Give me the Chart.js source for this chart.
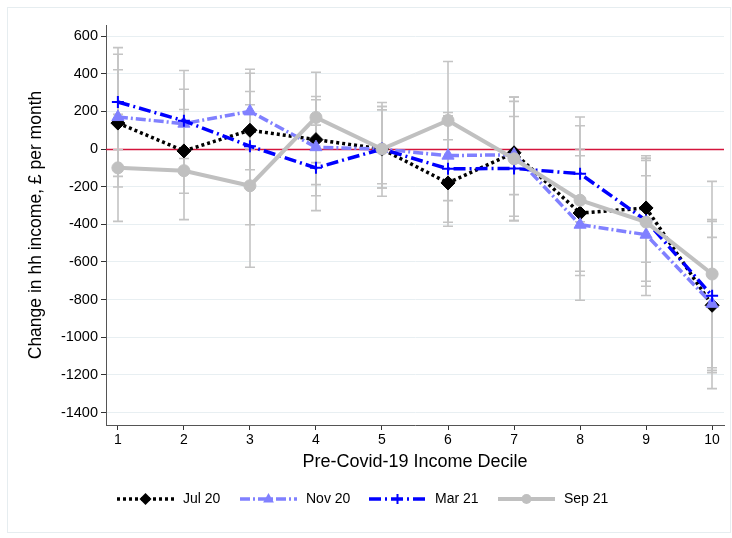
<!DOCTYPE html>
<html>
<head>
<meta charset="utf-8">
<script src="https://cdn.jsdelivr.net/npm/chart.js@4/dist/chart.umd.min.js"></script>
<style>
  body { margin: 0; background: #fff; }
  #wrap { width: 732px; height: 538px; }
</style>
</head>
<body>
<div id="wrap"><canvas id="incomeChart" width="732" height="538"></canvas></div>
<script>
// pre-covid income deciles
var deciles = [1, 2, 3, 4, 5, 6, 7, 8, 9, 10];
var yTicks = [600, 400, 200, 0, -200, -400, -600, -800, -1000, -1200, -1400];

// point estimates, £ per month
var jul20 = [138, -10, 100, 50, 0, -180, -20, -340, -313, -830];
var nov20 = [170, 135, 200, 10, 0, -35, -30, -402, -455, -822];
var mar21 = [250, 150, 15, -100, 0, -105, -103, -131, -380, -780];
var sep21 = [-100, -115, -195, 168, 0, 152, -52, -272, -388, -664];

// confidence intervals (lower / upper)
var jul20Lo = [-145, -235, -110, -189, -251, -410, -242, -649, -601, -1188];
var jul20Hi = [421, 210, 306, 279, 247, 49, 253, -36, -36, -469];
var nov20Lo = [-202, -50, 0, -248, -207, -274, -357, -803, -778, -1273];
var nov20Hi = [539, 318, 403, 262, 226, 194, 276, 0, -142, -375];
var mar21Lo = [-4, -117, -402, -327, -184, -389, -380, -386, -702, -1176];
var mar21Hi = [504, 417, 424, 127, 208, 177, 173, 124, -60, -384];
var sep21Lo = [-384, -375, -628, -72, -207, -161, -380, -672, -729, -1162];
var sep21Hi = [184, 145, 235, 408, 226, 465, 276, 170, -48, -172];

var FONT = "'Liberation Sans', Arial, sans-serif";

function pts(vals) {
    return deciles.map(function (d, i) { return { x: d, y: vals[i] }; });
}

// draws a marker the same way for plot and legend
function marker(ctx, style, x, y, r, color) {
    ctx.save();
    ctx.fillStyle = color;
    ctx.strokeStyle = color;
    ctx.setLineDash([]);
    ctx.beginPath();
    if (style === 'rectRot') {
        ctx.moveTo(x, y - r); ctx.lineTo(x + r, y); ctx.lineTo(x, y + r); ctx.lineTo(x - r, y);
        ctx.closePath(); ctx.fill();
    } else if (style === 'triangle') {
        ctx.moveTo(x, y - r); ctx.lineTo(x + r * 0.9, y + r * 0.6); ctx.lineTo(x - r * 0.9, y + r * 0.6);
        ctx.closePath(); ctx.fill();
    } else if (style === 'cross') {
        ctx.lineWidth = 2;
        ctx.moveTo(x - r, y); ctx.lineTo(x + r, y); ctx.moveTo(x, y - r); ctx.lineTo(x, y + r);
        ctx.stroke();
    } else {
        ctx.arc(x, y, r, 0, Math.PI * 2); ctx.fill();
    }
    ctx.restore();
}

var series = [
    { label: 'Jul 20', data: jul20, lo: jul20Lo, hi: jul20Hi, color: '#000000', dash: [3, 3], width: 3.5, style: 'rectRot', r: 7 },
    { label: 'Nov 20', data: nov20, lo: nov20Lo, hi: nov20Hi, color: '#8080ff', dash: [10, 3, 2, 3], width: 3.5, style: 'triangle', r: 7 },
    { label: 'Mar 21', data: mar21, lo: mar21Lo, hi: mar21Hi, color: '#0000ff', dash: [12, 4, 2, 4], width: 3.5, style: 'cross', r: 6 },
    { label: 'Sep 21', data: sep21, lo: sep21Lo, hi: sep21Hi, color: '#c0c0c0', dash: [], width: 4, style: 'circle', r: 6 }
];

var graphFrame = {
    id: 'graphFrame',
    beforeDraw: function (chart) {
        var ctx = chart.ctx;
        ctx.save();
        ctx.fillStyle = '#ffffff';
        ctx.fillRect(0, 0, chart.width, chart.height);
        ctx.strokeStyle = '#e6edf0';
        ctx.lineWidth = 1;
        ctx.strokeRect(7.5, 7.5, 723, 525);
        ctx.restore();
    }
};

var zeroLine = {
    id: 'zeroLine',
    beforeDatasetsDraw: function (chart) {
        var ctx = chart.ctx, a = chart.chartArea;
        var y = Math.round(chart.scales.y.getPixelForValue(0)) + 0.5;
        ctx.save();
        ctx.strokeStyle = '#d4143c';
        ctx.lineWidth = 1.5;
        ctx.beginPath();
        ctx.moveTo(a.left, y); ctx.lineTo(a.right, y);
        ctx.stroke();
        ctx.restore();
    }
};

var errorBars = {
    id: 'errorBars',
    beforeDatasetsDraw: function (chart) {
        var ctx = chart.ctx, xs = chart.scales.x, ys = chart.scales.y;
        ctx.save();
        ctx.strokeStyle = '#c4c4c4';
        ctx.lineWidth = 1.6;
        series.forEach(function (s) {
            deciles.forEach(function (d, i) {
                var x = Math.round(xs.getPixelForValue(d));
                var y1 = ys.getPixelForValue(s.lo[i]);
                var y2 = ys.getPixelForValue(s.hi[i]);
                ctx.beginPath();
                ctx.moveTo(x, y1); ctx.lineTo(x, y2);
                ctx.moveTo(x - 5, y1); ctx.lineTo(x + 5, y1);
                ctx.moveTo(x - 5, y2); ctx.lineTo(x + 5, y2);
                ctx.stroke();
            });
        });
        ctx.restore();
    }
};

var bottomLegend = {
    id: 'bottomLegend',
    afterDraw: function (chart) {
        var ctx = chart.ctx;
        var starts = [117, 240, 369, 498];
        var y = 499;
        ctx.save();
        ctx.font = '14px ' + FONT;
        ctx.textBaseline = 'middle';
        series.forEach(function (s, i) {
            var x0 = starts[i], x1 = x0 + 57;
            ctx.strokeStyle = s.color;
            ctx.lineWidth = s.width;
            ctx.setLineDash(s.dash);
            ctx.beginPath();
            ctx.moveTo(x0, y); ctx.lineTo(x1, y);
            ctx.stroke();
            marker(ctx, s.style, (x0 + x1) / 2, y, s.r - 1, s.color);
            ctx.fillStyle = '#000';
            ctx.fillText(s.label, x1 + 9, y);
        });
        ctx.restore();
    }
};

var ctx = document.getElementById('incomeChart').getContext('2d');
var incomeChart = new Chart(ctx, {
    type: 'line',
    data: {
        datasets: series.map(function (s, i) {
            return {
                label: s.label,
                data: pts(s.data),
                borderColor: s.color,
                backgroundColor: s.color,
                borderWidth: s.width,
                borderDash: s.dash,
                borderCapStyle: 'butt',
                pointStyle: s.style,
                pointRadius: s.r,
                pointBorderWidth: s.style === 'cross' ? 2 : 1,
                pointBackgroundColor: s.color,
                pointBorderColor: s.color,
                tension: 0,
                fill: false,
                order: 4 - i
            };
        })
    },
    options: {
        responsive: false,
        animation: false,
        layout: { padding: { left: 22, right: 6, top: 25, bottom: 61 } },
        plugins: {
            legend: { display: false },
            tooltip: { enabled: false }
        },
        scales: {
            x: {
                type: 'linear',
                min: 0.82,
                max: 10.18,
                afterBuildTicks: function (scale) {
                    scale.ticks = deciles.map(function (v) { return { value: v }; });
                },
                afterFit: function (scale) { scale.height = 52; },
                grid: { drawOnChartArea: false, drawTicks: true, tickLength: 5, tickColor: '#333' },
                border: { display: true, color: '#555', width: 1 },
                ticks: { color: '#000', font: { family: FONT, size: 14 }, padding: 2, maxRotation: 0 },
                title: { display: true, text: 'Pre-Covid-19 Income Decile', color: '#000', font: { family: FONT, size: 18 }, padding: { top: 4, bottom: 4 } }
            },
            y: {
                min: -1466,
                max: 659,
                afterBuildTicks: function (scale) {
                    scale.ticks = yTicks.map(function (v) { return { value: v }; });
                },
                afterFit: function (scale) { scale.width = 84; },
                grid: { color: '#e8eff2', lineWidth: 1, drawTicks: true, tickLength: 5, tickColor: '#333' },
                border: { display: true, color: '#555', width: 1 },
                ticks: {
                    color: '#000', font: { family: FONT, size: 14.5 }, padding: 3,
                    callback: function (v) { return String(v); }
                },
                title: { display: true, text: 'Change in hh income, £ per month', color: '#000', font: { family: FONT, size: 17.5 }, padding: { top: 4, bottom: 4 } }
            }
        }
    },
    plugins: [graphFrame, zeroLine, errorBars, bottomLegend]
});
</script>
</body>
</html>
